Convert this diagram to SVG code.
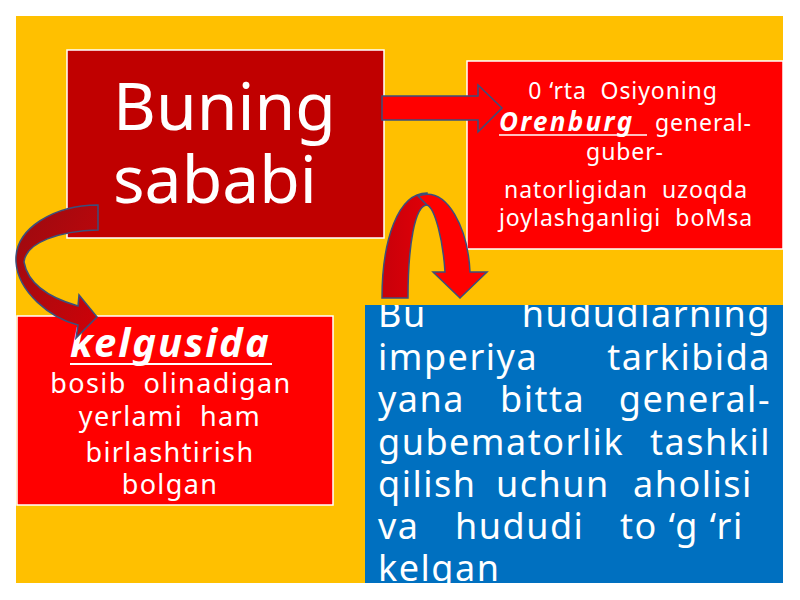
<svg xmlns="http://www.w3.org/2000/svg" width="800" height="600" viewBox="0 0 800 600">
<style>
.t{font-family:"Noto Sans","Open Sans","Liberation Sans",sans-serif;fill:#ffffff;}
.box{stroke:#ffffff;stroke-width:1.5;}
.arr{stroke:#3b4f7c;stroke-width:1.5;stroke-linejoin:miter;}
</style>
<defs>
<clipPath id="blueclip"><rect x="365" y="305" width="418" height="278"/></clipPath>
<linearGradient id="lg" x1="0" y1="0" x2="1" y2="1">
<stop offset="0" stop-color="#9a0a10"/>
<stop offset="0.6" stop-color="#b8070c"/>
<stop offset="1" stop-color="#d00008"/>
</linearGradient>
<linearGradient id="lg2" x1="0" y1="0" x2="1" y2="0">
<stop offset="0" stop-color="#c8000a"/>
<stop offset="1" stop-color="#e00008"/>
</linearGradient>
</defs>
<rect x="0" y="0" width="800" height="600" fill="#ffffff"/>
<rect x="16" y="16" width="767" height="567" fill="#FFC000"/>

<g id="node-buning">
<rect class="box" x="67" y="50" width="317" height="188" fill="#C00000"/>
<text class="t" x="113" y="130" font-size="66">Buning</text>
<text class="t" x="113" y="203" font-size="66">sababi</text>
</g>

<g id="node-orenburg">
<rect class="box" x="467" y="61" width="316" height="188" fill="#FF0000"/>
<text class="t" x="623" y="99" font-size="23" letter-spacing="0.9" text-anchor="middle" xml:space="preserve">0 ‘rta  Osiyoning</text>
<text class="t" x="499" y="131" font-size="26" letter-spacing="2.3" font-weight="bold" font-style="italic">Orenburg</text>
<line x1="499" y1="135" x2="647" y2="135" stroke="#ffffff" stroke-width="1.5"/>
<text class="t" x="655" y="131" font-size="23" letter-spacing="0.9">general-</text>
<text class="t" x="625" y="160" font-size="23" letter-spacing="0.9" text-anchor="middle">guber-</text>
<text class="t" x="626" y="198" font-size="23" letter-spacing="1" text-anchor="middle" xml:space="preserve">natorligidan  uzoqda</text>
<text class="t" x="626" y="226" font-size="23" letter-spacing="1" text-anchor="middle" xml:space="preserve">joylashganligi  boMsa</text>
</g>

<g id="node-kelgusida">
<rect class="box" x="17" y="316" width="316" height="189" fill="#FF0000"/>
<text class="t" x="70" y="357" font-size="40" letter-spacing="2" font-weight="bold" font-style="italic">kelgusida</text>
<line x1="70" y1="364" x2="272" y2="364" stroke="#ffffff" stroke-width="2"/>
<text class="t" x="171" y="393" font-size="27" letter-spacing="1.4" text-anchor="middle" xml:space="preserve">bosib  olinadigan</text>
<text class="t" x="170" y="426" font-size="27" letter-spacing="1.4" text-anchor="middle" xml:space="preserve">yerlami  ham</text>
<text class="t" x="170" y="462" font-size="27" letter-spacing="1.4" text-anchor="middle">birlashtirish</text>
<text class="t" x="170" y="494" font-size="27" letter-spacing="1.4" text-anchor="middle">bolgan</text>
</g>

<g id="node-hududlar">
<rect x="365" y="305" width="418" height="278" fill="#0070C0"/>
<g clip-path="url(#blueclip)" font-size="36" letter-spacing="1.5">
<text class="t" x="378" y="327">Bu</text>
<text class="t" x="771" y="327" text-anchor="end">hududlarning</text>
<text class="t" x="378" y="370">imperiya</text>
<text class="t" x="771" y="370" text-anchor="end">tarkibida</text>
<text class="t" x="378" y="412">yana</text>
<text class="t" x="500" y="412">bitta</text>
<text class="t" x="771" y="412" text-anchor="end">general-</text>
<text class="t" x="378" y="455">gubematorlik</text>
<text class="t" x="771" y="455" text-anchor="end">tashkil</text>
<text class="t" x="378" y="497">qilish</text>
<text class="t" x="496" y="497">uchun</text>
<text class="t" x="633" y="497">aholisi</text>
<text class="t" x="378" y="539">va</text>
<text class="t" x="455" y="539">hududi</text>
<text class="t" x="620" y="539" xml:space="preserve">to ‘g ‘ri</text>
<text class="t" x="378" y="581">kelgan</text>
</g>
</g>

<g id="connectors">
<path class="arr" fill="#FF0000" d="M382,96 L478,96 L478,85 L502,108 L478,132 L478,120 L382,120 Z"/>
<path class="arr" fill="url(#lg)" d="M98,205 C55,205 14,228 16,262 C18,292 50,318 78,325 L76,338 L97,317 L79,295 L78,306 C50,298 28,284 24,262 C26,242 60,231 98,230 Z"/>
<path class="arr" fill="url(#lg2)" d="M382,298 C382,240 398,193 427,193 L427,205 C415,205 408,245 408,298 Z"/>
<path class="arr" fill="#FF0000" d="M418,196 C448,185 468,230 470,272 L487,272 L460,298 L433,272 L445,272 C443,240 435,208 427,205 Z"/>
</g>
</svg>
